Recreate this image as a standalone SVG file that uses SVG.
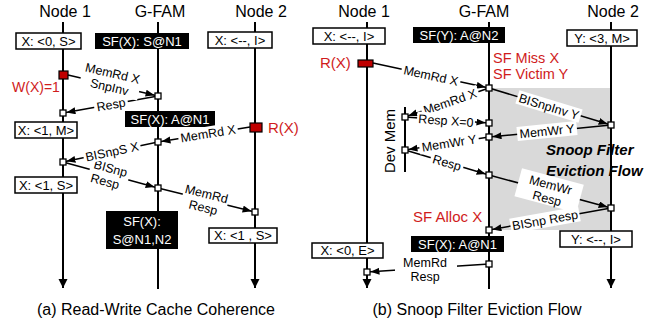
<svg xmlns="http://www.w3.org/2000/svg" width="656" height="324" viewBox="0 0 656 324">
<style>
.t{font-family:"Liberation Sans",Arial,sans-serif}
.ll{stroke:#000;stroke-width:2;fill:none}
.le{stroke:#000;stroke-width:2;fill:none;marker-end:url(#end)}
.cn{stroke:#000;stroke-width:1.5;fill:none;marker-end:url(#ah)}
.sq{fill:#fff;stroke:#000;stroke-width:1.3}
.wb{fill:#fff;stroke:#000;stroke-width:1.5}
.bb{fill:#000}
.rr{fill:#c00000;stroke:#000;stroke-width:1.2}
.bgw{fill:#fff}
.title{font-size:16px;text-anchor:middle;fill:#000}
.st{font-size:13px;text-anchor:middle;fill:#000}
.bt{font-size:13px;text-anchor:middle;fill:#fff}
.lb{font-size:12.5px;text-anchor:middle;fill:#000}
.red{fill:#d01c1c}
.cap{font-size:16px;text-anchor:middle;fill:#000}
</style>
<defs>
<marker id="ah" markerUnits="userSpaceOnUse" markerWidth="14" markerHeight="8" refX="12.5" refY="3.5" orient="auto"><path d="M0,0 L9,3.5 L0,7 z" fill="#000"/></marker>
<marker id="end" markerUnits="userSpaceOnUse" markerWidth="10" markerHeight="10" refX="9" refY="4.5" orient="auto"><path d="M0,0 L9,4.5 L0,9 z" fill="#000"/></marker>
</defs>

<rect id="eviction-region" x="489" y="88" width="122" height="142" fill="#d9d9d9"/>
<g class="t" font-weight="bold" font-style="italic" font-size="15px">
<text x="546" y="155">Snoop Filter</text>
<text x="546" y="176">Eviction Flow</text>
</g>

<!-- (a) -->
<g id="a-node1" class="t">
<text class="title" x="65" y="17">Node 1</text>
<line class="le" x1="63" y1="22" x2="63" y2="288"/>
<rect class="wb" x="16" y="33" width="65" height="16"/><text class="st" x="48.5" y="45.5">X: &lt;0, S&gt;</text>
<rect class="rr" x="59" y="71" width="9" height="8"/>
<text class="red" font-size="14px" x="12" y="92">W(X)=1</text>
<rect class="wb" x="15" y="122" width="62" height="16"/><text class="st" x="46" y="134.5">X: &lt;1, M&gt;</text>
<rect class="wb" x="15" y="177" width="62" height="16"/><text class="st" x="46" y="189.5">X: &lt;1, S&gt;</text>
</g>
<g id="a-gfam" class="t">
<text class="title" x="160" y="17">G-FAM</text>
<line class="ll" x1="158" y1="22" x2="158" y2="289"/>
<rect class="bb" x="95" y="33" width="94" height="16"/><text class="bt" x="142" y="45.5">SF(X): S@N1</text>
<rect class="bb" x="125" y="111" width="90" height="16"/><text class="bt" x="170" y="123.5">SF(X): A@N1</text>
<rect class="bb" x="106" y="211" width="72" height="38"/>
<text class="bt" font-size="14px" x="142" y="226">SF(X):</text>
<text class="bt" font-size="14px" x="142" y="244">S@N1,N2</text>
</g>
<g id="a-node2" class="t">
<text class="title" x="261" y="17">Node 2</text>
<line class="le" x1="255" y1="22" x2="255" y2="288"/>
<rect class="wb" x="208" y="32" width="64" height="16"/><text class="st" x="240" y="44.5">X: &lt;--, I&gt;</text>
<rect class="rr" x="250" y="123" width="12" height="9"/>
<text class="red" font-size="15px" x="268" y="133">R(X)</text>
<rect class="wb" x="209" y="228" width="68" height="15"/><text class="st" x="243" y="240">X: &lt;1 , S&gt;</text>
</g>

<!-- (b) -->
<g id="b-node1" class="t">
<text class="title" x="364" y="17">Node 1</text>
<line class="le" x1="367" y1="22" x2="367" y2="288"/>
<rect class="wb" x="313" y="28" width="72" height="16"/><text class="st" x="349" y="40.5">X: &lt;--, I&gt;</text>
<rect class="rr" x="358" y="60" width="15" height="7"/>
<text class="red" font-size="15px" x="320" y="68">R(X)</text>
<rect class="wb" x="312" y="243" width="71" height="15"/><text class="st" x="347.5" y="255">X: &lt;0, E&gt;</text>
</g>
<g id="b-devmem" class="t">
<text font-size="15px" text-anchor="middle" transform="translate(395,141) rotate(-90)">Dev Mem</text>
<line class="ll" x1="405" y1="107" x2="405" y2="172"/>
</g>
<g id="b-gfam" class="t">
<text class="title" x="484" y="17">G-FAM</text>
<line class="ll" x1="489" y1="22" x2="489" y2="289"/>
<rect class="bb" x="413" y="27" width="92" height="16"/><text class="bt" x="459" y="39.5">SF(Y): A@N2</text>
<text class="red" font-size="14.5px" x="493" y="62.5">SF Miss X</text>
<text class="red" font-size="14.5px" x="493" y="78.5">SF Victim Y</text>
<text class="red" font-size="15px" x="413" y="222">SF Alloc X</text>
<rect class="bb" x="411" y="236" width="93" height="16"/><text class="bt" x="457.5" y="248.5">SF(X): A@N1</text>
</g>
<g id="b-node2" class="t">
<text class="title" x="613" y="17">Node 2</text>
<line class="le" x1="611" y1="22" x2="611" y2="288"/>
<rect class="wb" x="567" y="30" width="70" height="16"/><text class="st" x="602" y="42.5">Y: &lt;3, M&gt;</text>
<rect class="wb" x="560" y="231" width="72" height="16"/><text class="st" x="596" y="243.5">Y: &lt;--, I&gt;</text>
</g>

<g id="connectors" class="t">
<!-- (a) -->
<line class="cn" x1="68" y1="75" x2="158" y2="96"/>
<line class="cn" x1="158" y1="96" x2="63" y2="113"/>
<line class="cn" x1="250" y1="127" x2="158" y2="142"/>
<line class="cn" x1="158" y1="142" x2="63" y2="162"/>
<line class="cn" x1="63" y1="162" x2="158" y2="188"/>
<line class="cn" x1="158" y1="188" x2="255" y2="212"/>
<!-- (b) -->
<line class="cn" x1="373" y1="63" x2="489" y2="88"/>
<line class="cn" x1="489" y1="88" x2="405" y2="117"/>
<line class="cn" x1="405" y1="117" x2="489" y2="123"/>
<line class="cn" x1="489" y1="88" x2="611" y2="125"/>
<line class="cn" x1="611" y1="125" x2="489" y2="137"/>
<line class="cn" x1="489" y1="137" x2="405" y2="150"/>
<line class="cn" x1="405" y1="150" x2="489" y2="175"/>
<line class="cn" x1="489" y1="175" x2="611" y2="208"/>
<line class="cn" x1="611" y1="208" x2="489" y2="230"/>
<line class="cn" x1="489" y1="264" x2="367" y2="272"/>

<!-- labels (a) -->
<g transform="translate(111,80) rotate(13.1)"><rect class="bgw" x="-30" y="-15" width="60" height="29"/><text class="lb" y="-2.5">MemRd X</text><text class="lb" y="11.5">SnpInv</text></g>
<g transform="translate(111,104.5) rotate(-10.1)"><rect class="bgw" x="-17" y="-7" width="34" height="13"/><text class="lb" y="4.5">Resp</text></g>
<g transform="translate(208,133.5) rotate(-9.3)"><rect class="bgw" x="-30" y="-7" width="60" height="14"/><text class="lb" y="4.5">MemRd X</text></g>
<g transform="translate(109,174.5) rotate(15.3)"><rect class="bgw" x="-20" y="-13" width="40" height="27"/><text class="lb" y="-2">BISnp</text><text class="lb" y="12" x="-2">Resp</text></g>
<g transform="translate(112,151.5) rotate(-11.9)"><rect class="bgw" x="-29" y="-7" width="58" height="14"/><text class="lb" y="4.5">BISnpS X</text></g>
<g transform="translate(205,200) rotate(13.9)"><rect class="bgw" x="-23" y="-14" width="46" height="28"/><text class="lb" y="-2">MemRd</text><text class="lb" y="12">Resp</text></g>
<!-- labels (b) -->
<g transform="translate(431,75.5) rotate(12.2)"><rect class="bgw" x="-30" y="-7" width="60" height="14"/><text class="lb" y="4.5">MemRd X</text></g>
<g transform="translate(450,101.5) rotate(-19)"><rect class="bgw" x="-30" y="-7" width="60" height="14"/><text class="lb" y="4.5">MemRd X</text></g>
<g transform="translate(446,120.5) rotate(4.1)"><rect class="bgw" x="-29" y="-7" width="58" height="14"/><text class="lb" y="4.5">Resp X=0</text></g>
<g transform="translate(549,106.5) rotate(16.9)"><rect class="bgw" x="-33" y="-7" width="66" height="14"/><text class="lb" y="4.5">BISnpInv Y</text></g>
<g transform="translate(547,131) rotate(-5.6)"><rect class="bgw" x="-30" y="-7" width="60" height="14"/><text class="lb" y="4.5">MemWr Y</text></g>
<g transform="translate(449,143) rotate(-8.8)"><rect class="bgw" x="-30" y="-7" width="60" height="14"/><text class="lb" y="4.5">MemWr Y</text></g>
<g transform="translate(447,162.5) rotate(16.6)"><rect class="bgw" x="-17" y="-7" width="34" height="13"/><text class="lb" y="4.5">Resp</text></g>
<g transform="translate(549,191) rotate(15.1)"><rect class="bgw" x="-32" y="-15" width="64" height="29"/><text class="lb" y="-2">MemWr</text><text class="lb" y="12">Resp</text></g>
<g transform="translate(545,220) rotate(-10.2)"><rect class="bgw" x="-35" y="-7.5" width="70" height="15"/><text class="lb" y="4.5">BISnp Resp</text></g>
<rect class="bgw" x="395" y="255" width="62" height="28"/>
<text class="lb" x="425" y="267">MemRd</text>
<text class="lb" x="425" y="280.5">Resp</text>

<!-- squares -->
<rect class="sq" x="155" y="93" width="6" height="6"/>
<rect class="sq" x="60" y="110" width="6" height="6"/>
<rect class="sq" x="155" y="139" width="6" height="6"/>
<rect class="sq" x="60" y="159" width="6" height="6"/>
<rect class="sq" x="155" y="185" width="6" height="6"/>
<rect class="sq" x="252" y="209" width="6" height="6"/>
<rect class="sq" x="486" y="85" width="6" height="6"/>
<rect class="sq" x="402" y="114" width="6" height="6"/>
<rect class="sq" x="486" y="120" width="6" height="6"/>
<rect class="sq" x="608" y="122" width="6" height="6"/>
<rect class="sq" x="486" y="134" width="6" height="6"/>
<rect class="sq" x="402" y="147" width="6" height="6"/>
<rect class="sq" x="486" y="172" width="6" height="6"/>
<rect class="sq" x="608" y="205" width="6" height="6"/>
<rect class="sq" x="486" y="227" width="6" height="6"/>
<rect class="sq" x="486" y="261" width="6" height="6"/>
<rect class="sq" x="364" y="269" width="6" height="6"/>
</g>

<g id="captions" class="t">
<text class="cap" x="156" y="315">(a) Read-Write Cache Coherence</text>
<text class="cap" x="477" y="315">(b) Snoop Filter Eviction Flow</text>
</g>
</svg>
